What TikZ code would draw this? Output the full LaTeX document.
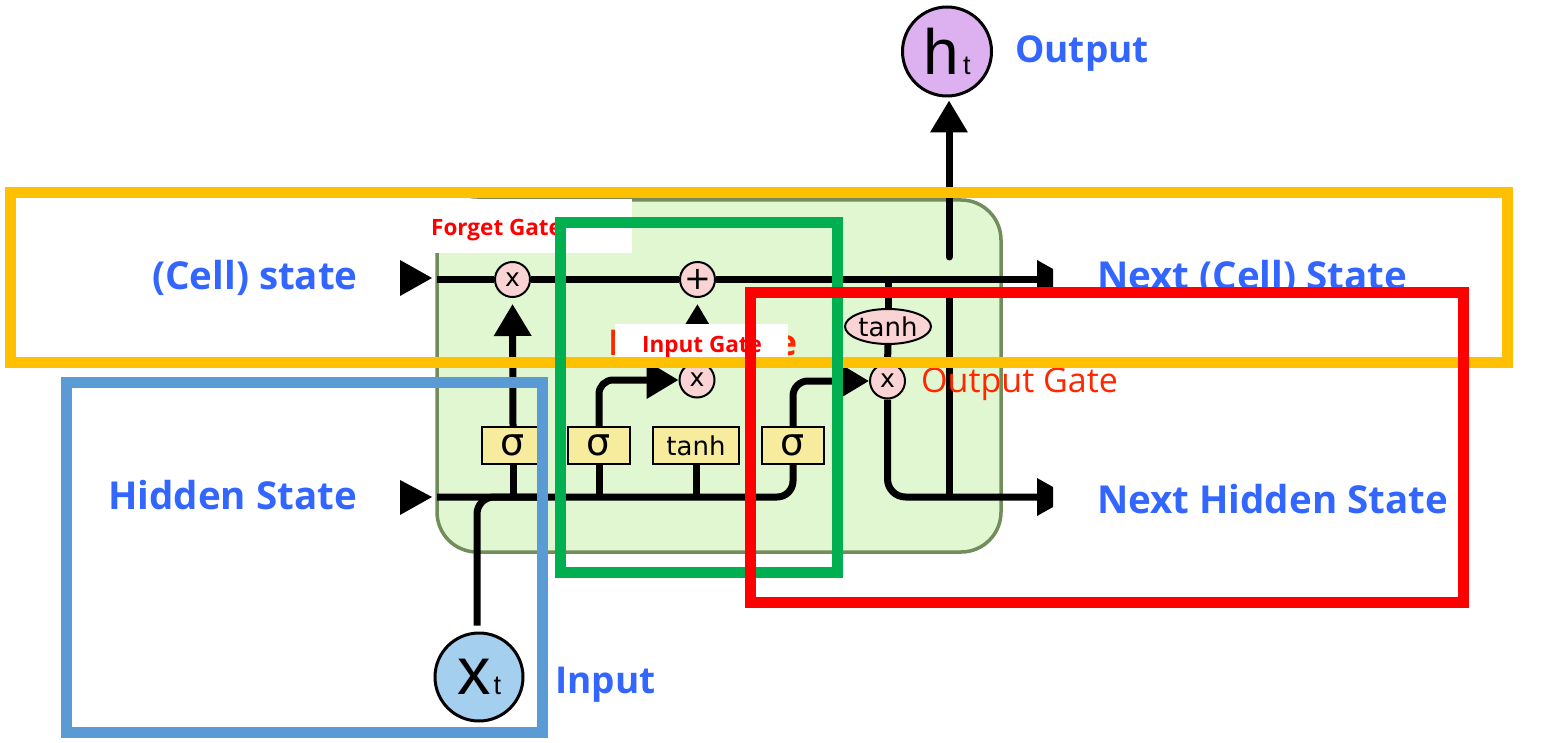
\documentclass[tikz,border=0pt]{standalone}
\usepackage{fontspec}
\usetikzlibrary{arrows.meta,shapes.geometric}
\newfontfamily\labfont{Open Sans}
\newfontfamily\dvfont{DejaVu Sans}
\newfontfamily\arfont{Liberation Sans}
\newcommand\fsz[1]{\fontsize{#1}{#1}\selectfont}
\definecolor{cellfill}{RGB}{225,247,210}
\definecolor{celledge}{RGB}{114,140,92}
\definecolor{pinkc}{RGB}{250,212,212}
\definecolor{boxc}{RGB}{247,236,158}
\definecolor{htc}{RGB}{221,176,240}
\definecolor{xtc}{RGB}{165,207,238}
\definecolor{bluetxt}{RGB}{51,102,255}
\definecolor{redtxt}{RGB}{255,38,0}
\definecolor{redsmall}{RGB}{255,0,0}
\definecolor{frameorange}{RGB}{255,192,0}
\definecolor{frameblue}{RGB}{91,155,213}
\definecolor{framegreen}{RGB}{0,176,80}
\definecolor{framered}{RGB}{255,0,0}
\begin{document}
\begin{tikzpicture}[x=1pt,y=-1pt,
  wire/.style={line width=7pt, black},
  arr/.style={wire, -{Triangle[length=32pt,width=36pt]}},
  gate/.style={circle, draw=black, line width=2pt, fill=pinkc, minimum size=35pt, inner sep=0pt, font=\dvfont\fsz{25}},
  layerbox/.style={rectangle, draw=black, line width=2pt, fill=boxc, minimum width=62pt, minimum height=37pt, inner sep=0pt, font=\dvfont\fsz{38}},
  tanhbox/.style={layerbox, minimum width=86pt, font=\dvfont\fsz{26}},
  blab/.style={anchor=base west, inner sep=0pt, text=bluetxt, font=\labfont\bfseries\fsz{38.5}},
  rlab/.style={anchor=base west, inner sep=0pt, text=redtxt, font=\labfont\fsz{34}},
  slab/.style={anchor=base west, inner sep=0pt, text=redsmall, font=\labfont\bfseries\fsz{22.5}},
  frame/.style={line width=11pt}
]
\useasboundingbox (0,0) rectangle (1549,743);
\fill[white] (0,0) rectangle (1549,743);

% cell body
\draw[fill=cellfill, draw=celledge, line width=3.5pt, rounded corners=40pt] (437,200) rectangle (1001,552);

% coordinates
\coordinate (cin) at (437,279.5);
\coordinate (cout) at (1037,279.5);
\coordinate (hin) at (437,497);
\coordinate (hout) at (1037,497);
\coordinate (xj) at (540,497);
\coordinate (hj) at (949,497);
\coordinate (hgap) at (949,290);
\coordinate (hup) at (949,257);

% nodes
\node[gate] (fx) at (512.5,279.5) {x};
\node[gate, font=\dvfont\fsz{32}] (plus) at (697.5,279.5) {+};
\node[gate] (ix) at (697,380) {x};
\node[gate] (ox) at (887.5,381) {x};
\node[ellipse, draw=black, line width=2pt, fill=pinkc, minimum width=86pt, minimum height=35pt, inner sep=0pt, font=\dvfont\fsz{26}] (th) at (888,326.5) {tanh};
\node[layerbox] (s1) at (513,445.5) {σ};
\node[layerbox] (s2) at (599,445.5) {σ};
\node[tanhbox] (tb) at (696,445.5) {tanh};
\node[layerbox] (s3) at (793,445.5) {σ};
\node[circle, draw=black, line width=3pt, fill=htc, minimum size=89pt, inner sep=0pt] (ht) at (947,51.5) {\arfont\fsz{64}h\hspace{4pt}\fsz{27}t};
\node[circle, draw=black, line width=3pt, fill=xtc, minimum size=88pt, inner sep=0pt] (xt) at (479,677) {\arfont\fsz{67}x\hspace{3pt}\fsz{27}t};

% connectors
\draw[wire] (cin) -- (fx.west);
\draw[wire] (fx.east) -- (plus.west);
\draw[wire] (plus.east) -- (cout);
\draw[wire] (th.north) -- (th.north |- cin);
\draw[wire] (th.south) -- (ox.north);
\draw[wire] (s1.south) -- (s1.south |- hin);
\draw[wire] (s2.south) -- (s2.south |- hin);
\draw[wire] (tb.south) -- (tb.south |- hin);
\draw[wire, rounded corners=16pt] (hin) -| (s3.south);
\draw[wire, rounded corners=17pt] ([yshift=6pt]xt.north -| 477,0) |- (xj);
\draw[arr, shorten >=6pt] (s1.north) -- (fx.south);
\draw[arr, shorten >=6pt] (ix.north) -- (plus.south);
\draw[arr, rounded corners=14pt] (s2.north) |- (ix.west);
\draw[arr, rounded corners=15pt] (s3.north) |- (ox.west);
\draw[wire, rounded corners=18pt] (ox.south) |- (hout);
\draw[wire] (hj) -- (hgap);
\draw[arr, line cap=round, shorten >=3pt] (hup) -- (hup |- ht.south);

% outer arrowheads
\fill[black] (400,260) -- (432,278) -- (400,296) -- cycle;
\fill[black] (400,480) -- (432,497) -- (400,515) -- cycle;
\fill[black] (1037,260) -- (1053,269) -- (1053,289) -- (1037,298) -- cycle;
\fill[black] (1037,478) -- (1053,487) -- (1053,507) -- (1037,516) -- cycle;

% labels
\node[blab] (lcell) at (152,289) {(Cell) state};
\node[blab] (lhid) at (108,509) {Hidden State};
\node[blab] (lncell) at (1097,290) {Next (Cell) State};
\node[blab] (lnhid) at (1097,513) {Next Hidden State};
\node[blab, font=\labfont\bfseries\fsz{37}] (lout) at (1015,63) {Output};
\node[blab, font=\labfont\bfseries\fsz{37}] (lin) at (555,693) {Input};
\node[rlab] (logate) at (921,392) {Output Gate};
\node[rlab, font=\labfont\bfseries\fsz{35.5}] (ligbig) at (608,355) {Input Gate};

% white patches with small labels
\fill[white] (400,199) rectangle (632,253);
\node[slab] (lfgate) at (431,236) {Forget Gate};
\fill[white] (615,324) rectangle (788,362);
\node[slab] (ligate) at (642,352) {Input Gate};

% frames
\draw[frame, frameorange] (10.5,192.5) rectangle (1507.5,362.5);
\draw[frame, frameblue] (66.5,382.5) rectangle (542,732.5);
\draw[frame, framegreen] (560.5,223) rectangle (837.5,572.5);
\draw[frame, framered] (750,292.5) rectangle (1463,602);
\end{tikzpicture}
\end{document}
